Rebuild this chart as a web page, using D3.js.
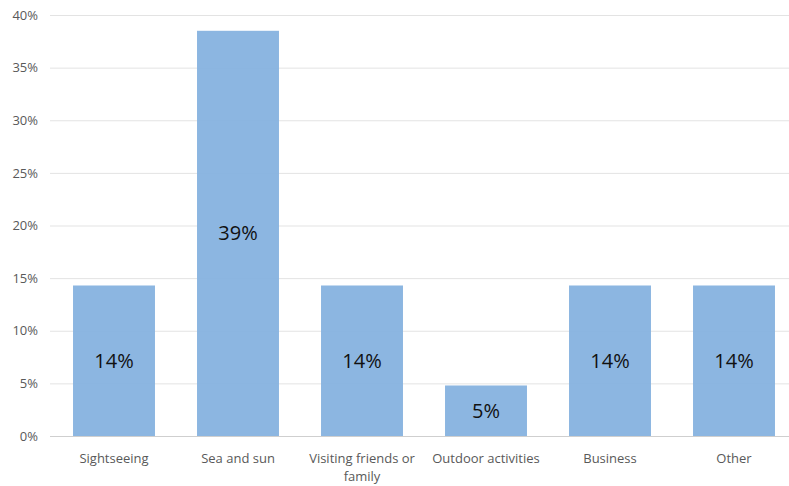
<!DOCTYPE html>
<html>
<head>
<meta charset="utf-8">
<script src="https://cdn.jsdelivr.net/npm/d3@7"></script>
<style>
  html, body { margin: 0; padding: 0; background: #fff; }
  svg { display: block; }
</style>
</head>
<body>
<svg id="chart" width="789" height="486"></svg>
<script>
// Purpose of trip, share of respondents (%)
const categories = ["Sightseeing", "Sea and sun", "Visiting friends or family", "Outdoor activities", "Business", "Other"];
const shares = [14.3, 38.5, 14.3, 4.8, 14.3, 14.3];
const yTicks = [0, 5, 10, 15, 20, 25, 30, 35, 40];

const svg = d3.select("#chart");
const font = "Open Sans, Liberation Sans, sans-serif";

const x = d3.scaleBand().domain(categories).range([52, 796]).paddingInner(0.339).paddingOuter(0.1695);
const y = d3.scaleLinear().domain([0, 40]).range([436, 15]);

// horizontal gridlines
svg.append("g").selectAll("line").data(yTicks.filter(t => t > 0)).join("line")
  .attr("x1", 50).attr("x2", 789)
  .attr("y1", d => y(d) + 0.5).attr("y2", d => y(d) + 0.5)
  .attr("stroke", "#e3e3e3").attr("stroke-width", 1);

// bars
svg.append("g").selectAll("rect").data(categories).join("rect")
  .attr("x", d => x(d))
  .attr("y", (d, i) => y(shares[i]))
  .attr("width", x.bandwidth())
  .attr("height", (d, i) => y(0) - y(shares[i]))
  .attr("fill", "#86b2df")
  .attr("fill-opacity", 0.95);

// baseline
svg.append("line").attr("x1", 50).attr("x2", 789)
  .attr("y1", y(0) + 0.5).attr("y2", y(0) + 0.5)
  .attr("stroke", "#cfcfcf");

// y axis tick labels
const yAxis = d3.axisLeft(y).tickValues(yTicks).tickFormat(d => d + "%").tickSize(0).tickPadding(0);
const yg = svg.append("g").attr("transform", "translate(38,0)").call(yAxis);
yg.select(".domain").remove();
yg.selectAll("text").attr("font-family", font).attr("font-size", 13).attr("fill", "#595959");

// x axis category labels (wrapped)
const xAxis = d3.axisBottom(x).tickSize(0).tickPadding(0).tickFormat("");
const xg = svg.append("g").attr("transform", `translate(0,${y(0)})`).call(xAxis);
xg.select(".domain").remove();
const lines = {
  "Visiting friends or family": ["Visiting friends or", "family"]
};
xg.selectAll(".tick").each(function(d) {
  const t = d3.select(this).append("text")
    .attr("font-family", font).attr("font-size", 13).attr("fill", "#595959")
    .attr("text-anchor", "middle");
  (lines[d] || [d]).forEach((s, k) => {
    t.append("tspan").attr("x", 0).attr("y", 27 + k * 18).text(s);
  });
});

// value labels centred in each bar
svg.append("g").selectAll("text").data(categories).join("text")
  .attr("x", d => x(d) + x.bandwidth() / 2)
  .attr("y", (d, i) => (y(shares[i]) + y(0)) / 2)
  .attr("dy", "0.35em")
  .attr("text-anchor", "middle")
  .attr("font-family", font).attr("font-size", 20)
  .attr("fill", "#111")
  .text((d, i) => Math.round(shares[i]) + "%");
</script>
</body>
</html>
